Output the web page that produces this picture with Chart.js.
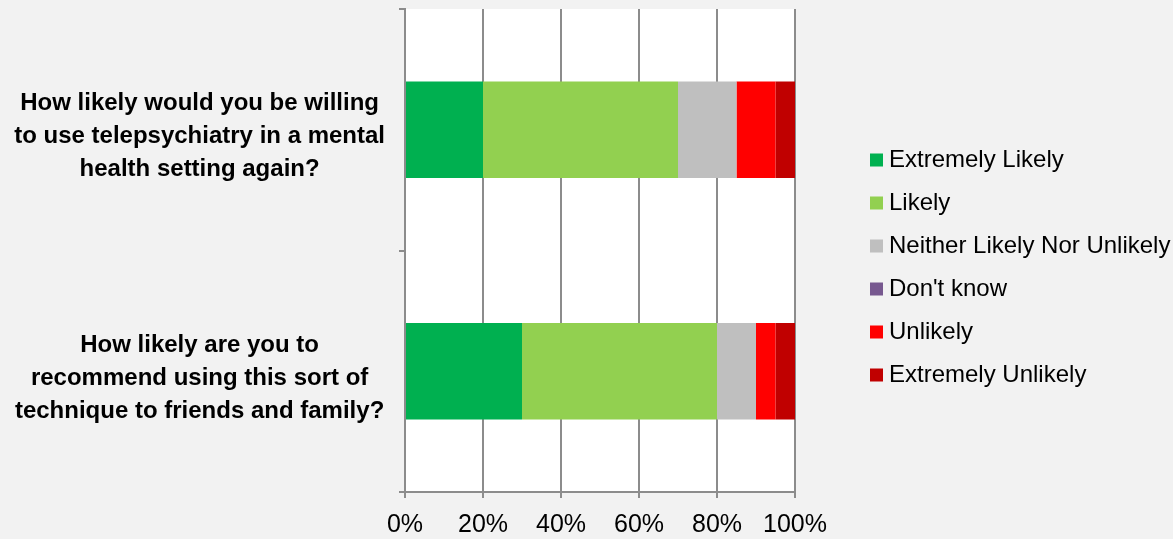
<!DOCTYPE html>
<html><head><meta charset="utf-8">
<script src="https://cdn.jsdelivr.net/npm/chart.js@4/dist/chart.umd.min.js"></script>
<style>html,body{margin:0;padding:0;background:#f2f2f2;overflow:hidden}#wrap{width:1173px;height:539px;position:relative}</style>
</head><body><div id="wrap"><canvas id="c" width="1173" height="539"></canvas></div>
<script>
const categories = [
  ['How likely would you be willing', 'to use telepsychiatry in a mental', 'health setting again?'],
  ['How likely are you to', 'recommend using this sort of', 'technique to friends and family?']
];
const seriesNames = ['Extremely Likely', 'Likely', 'Neither Likely Nor Unlikely', "Don't know", 'Unlikely', 'Extremely Unlikely'];
const extremelyLikely = [20, 30];
const likely = [50, 50];
const neitherLikely = [15, 10];
const dontKnow = [0, 0];
const unlikely = [10, 5];
const extremelyUnlikely = [5, 5];
const xTickValues = [0, 20, 40, 60, 80, 100];
const seriesColors = ['#00b050', '#92d050', '#bfbfbf', '#77588f', '#ff0000', '#c00000'];

const seriesValues = [extremelyLikely, likely, neitherLikely, dontKnow, unlikely, extremelyUnlikely];
const FONT = "'Liberation Sans', Arial, sans-serif";
const AXIS = '#8c8c8c';

const bgPlugin = {
  id: 'bg',
  beforeDraw(chart) {
    const {ctx, chartArea: a} = chart;
    ctx.save();
    ctx.fillStyle = '#f2f2f2';
    ctx.fillRect(0, 0, chart.width, chart.height);
    ctx.fillStyle = '#ffffff';
    ctx.fillRect(a.left, a.top, a.right - a.left, a.bottom - a.top);
    ctx.restore();
  }
};

// let the legend text run to the canvas edge instead of being clipped by its narrow box
const legendWidenPlugin = {
  id: 'legendWiden',
  afterLayout(chart) {
    const lg = chart.legend;
    if (!lg) return;
    lg.right = chart.width + 20;
    lg.width = lg.right - lg.left;
  }
};

new Chart(document.getElementById('c'), {
  type: 'bar',
  data: {
    labels: categories,
    datasets: seriesNames.map((name, i) => ({
      label: name,
      data: seriesValues[i],
      backgroundColor: seriesColors[i],
      borderWidth: 0,
      xAxisID: 'x',
      yAxisID: 'y',
      barPercentage: 0.4,
      categoryPercentage: 1
    }))
  },
  options: {
    indexAxis: 'y',
    responsive: false,
    animation: false,
    layout: {padding: {left: 0, top: 0, right: 216, bottom: 4}},
    scales: {
      y: {
        type: 'category',
        position: 'left',
        stacked: true,
        grid: {drawOnChartArea: false, drawTicks: true, tickLength: 6, color: AXIS, lineWidth: 2, offset: true},
        border: {display: true, color: AXIS, width: 2},
        ticks: {
          color: '#000',
          font: {family: FONT, size: 24, weight: 'bold', lineHeight: 1.375},
          crossAlign: 'center',
          padding: 14,
          labelOffset: 7
        },
        afterFit: s => { s.width = 405; s.paddingTop = 9; s.paddingBottom = 0; }
      },
      x: {
        type: 'linear',
        position: 'bottom',
        stacked: true,
        min: 0,
        max: 100,
        grid: {drawOnChartArea: true, drawTicks: true, tickLength: 6, color: AXIS, lineWidth: 2},
        border: {display: true, color: AXIS, width: 2},
        afterBuildTicks: s => { s.ticks = xTickValues.map(v => ({value: v})); },
        ticks: {
          color: '#000',
          font: {family: FONT, size: 25},
          padding: 12,
          maxRotation: 0,
          callback: v => v + '%'
        },
        afterFit: s => { s.height = 43; }
      },
      gap: {
        type: 'linear',
        position: 'right',
        axis: 'y',
        display: true,
        grid: {display: false},
        border: {display: false},
        ticks: {display: false},
        afterFit: s => { s.width = 62; s.paddingTop = 0; s.paddingBottom = 0; }
      }
    },
    plugins: {
      legend: {
        position: 'right',
        maxWidth: 100,
        labels: {
          color: '#000',
          font: {family: FONT, size: 24},
          usePointStyle: true,
          pointStyle: 'rect',
          boxWidth: 1,
          boxHeight: 13,
          padding: 19
        }
      },
      tooltip: {enabled: false},
      title: {display: false}
    }
  },
  plugins: [bgPlugin, legendWidenPlugin]
});
</script>
</body></html>
